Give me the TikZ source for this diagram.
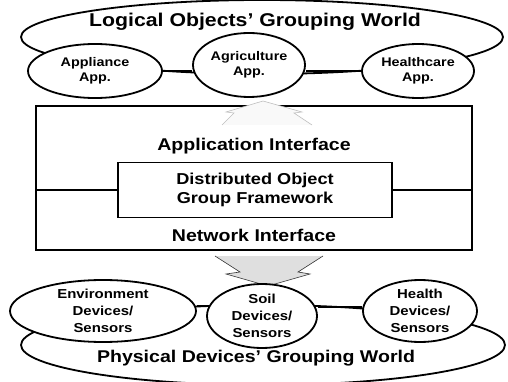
\documentclass[tikz,border=0pt]{standalone}
\usepackage{fontspec}
\setmainfont{Liberation Sans}[FakeStretch=1.15]
\usepackage{tikz}
\usetikzlibrary{shapes.geometric,positioning}

\tikzset{
  world/.style={draw,ellipse,line width=1.8pt,inner sep=0pt},
  member/.style={draw,ellipse,line width=1.8pt,fill=white,inner sep=-20pt,
    align=center,font=\bfseries\fontsize{12.5}{15}\selectfont},
  device/.style={member,font=\bfseries\fontsize{13}{17}\selectfont},
  title/.style={font=\bfseries\fontsize{18.5}{22}\selectfont},
  layer/.style={draw,line width=1.8pt,inner sep=0pt},
  layertext/.style={font=\bfseries\fontsize{17}{20}\selectfont},
  link/.style={line width=1.8pt},
  uparrow/.style={draw=gray!50,fill=gray!5,line width=0.6pt},
  downarrow/.style={draw=black!80,fill=gray!25,line width=0.6pt}
}

\begin{document}
\begin{tikzpicture}[x=1pt,y=-1pt]
    \useasboundingbox (0,0) rectangle (508,382);
    % logical world
    \node[world,minimum width=482pt,minimum height=74pt] (logical) at (262,37) {};
    \node[title] (logicaltitle) at (255,22) {Logical Objects' Grouping World};
    \node[member,minimum width=134pt,minimum height=54pt] (appliance) at (95,71) {Appliance\\App.};
    \node[member,minimum width=112pt,minimum height=64pt] (agriculture) at (249,65) {Agriculture\\App.};
    \node[member,minimum width=112pt,minimum height=54pt] (healthcare) at (418,71) {Healthcare\\App.};
    \draw[link] (appliance.east) -- (agriculture.west |- appliance.east);
    \draw[link] (agriculture.east |- healthcare.west) -- (healthcare.west);
    % middleware box
    \node[layer,minimum width=436pt,minimum height=144pt] (middleware) at (254,178) {};
    \node[layer,minimum width=274pt,minimum height=55pt,align=center,
      font=\bfseries\fontsize{15.8}{19}\selectfont] (framework) at (255,190) {Distributed Object\\Group Framework};
    \node[layertext] (appif) at (254,146) {Application Interface};
    \node[layertext] (netif) at (254,235) {Network Interface};
    \draw[link] (framework.west) -- (framework.west -| middleware.west);
    \draw[link] (framework.east) -- (framework.east -| middleware.east);
    % arrows between layers
    \draw[uparrow] (222,125) -- (234,113) -- (226,112) -- (263,101) -- (302,112) -- (294,113) -- (312,125);
    \draw[downarrow] (215,256) -- (240,272) -- (226,274) -- (268,286) -- (310,274) -- (298,272) -- (323,256);
    % physical world
    \node[world,minimum width=484pt,minimum height=80pt] (physical) at (263,345) {};
    \node[title,font=\bfseries\fontsize{17}{20}\selectfont] (physicaltitle) at (256,358) {Physical Devices' Grouping World};
    \node[device,minimum width=186pt,minimum height=62pt] (environment) at (103,311) {Environment\\Devices/\\Sensors};
    \node[device,minimum width=110pt,minimum height=64pt] (soil) at (262,316) {Soil\\Devices/\\Sensors};
    \node[device,minimum width=114pt,minimum height=62pt] (health) at (420,311) {Health\\Devices/\\Sensors};
    \draw[link] (environment.east |- 0,306) -- (soil.west |- 0,306);
    \draw[link] (soil.east |- 0,307) -- (health.west |- 0,307);
\end{tikzpicture}
\end{document}
